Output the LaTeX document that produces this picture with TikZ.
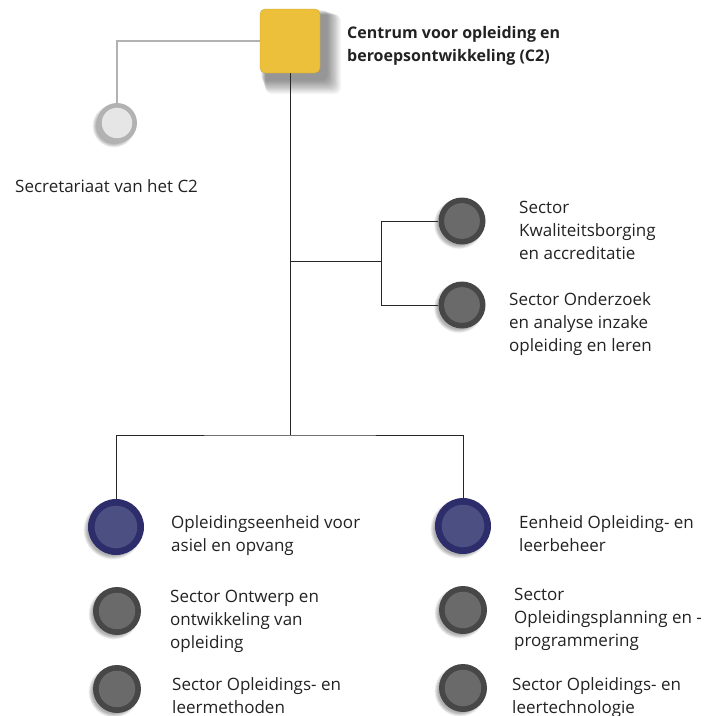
\documentclass[tikz,border=0pt]{standalone}
\usepackage{fontspec}
\setmainfont{Open Sans}
\definecolor{gold}{HTML}{ECC03A}
\definecolor{dgout}{HTML}{474747}
\definecolor{dgin}{HTML}{6A6A6A}
\definecolor{blout}{HTML}{2E2D6B}
\definecolor{blin}{HTML}{4B4F82}
\definecolor{ltout}{HTML}{B2B2B2}
\definecolor{ltin}{HTML}{E6E6E6}
\definecolor{txt}{HTML}{222222}
\newcommand{\mlines}[1]{\vtop{\baselineskip=23.2pt\halign{##\hfil\cr#1\crcr}}}
\newcommand{\orgdot}[6]{%
  \foreach \k in {1,...,7}{\fill[black,opacity=0.05] (#2-3,#3+3) circle ({#4+2-\k*0.6});}
  \node[circle,fill=#5,minimum size={2*#4},inner sep=0pt] (#1) at (#2,#3) {};
  \fill[#6] (#1.center) circle ({#4*0.76});
}
\tikzset{
  lbl/.style={anchor=base west,inner sep=0pt,text=txt,font=\fontsize{17}{23.2}\selectfont},
  conn/.style={draw=black!85,line width=0.7pt},
  lconn/.style={draw=ltout,line width=1.1pt}
}
\begin{document}
\begin{tikzpicture}[x=1pt,y=-1pt]
\useasboundingbox (0,0) rectangle (710,716);
% shadow of top box
\foreach \k in {1,...,12}{\fill[black,opacity=0.045,rounded corners=6pt] (260+6-\k*0.4,9+6-\k*0.4) rectangle (320+8+14-\k*1.2,73+8+14-\k*1.2);}
\node[draw=gold!85!black,line width=0.3pt,fill=gold,rounded corners=5pt,minimum width=60pt,minimum height=64pt,inner sep=0pt] (top) at (290,41) {};
% secretariaat dot
\orgdot{sec}{117}{123}{20}{ltout}{ltin}
% sector dots right
\orgdot{k1}{462}{221}{23.5}{dgout}{dgin}
\orgdot{k2}{462}{305}{23.5}{dgout}{dgin}
% units
\orgdot{u1}{116}{527}{28}{blout}{blin}
\orgdot{u2}{463}{526}{28}{blout}{blin}
\orgdot{s1}{117}{611}{24}{dgout}{dgin}
\orgdot{s2}{117}{689}{24}{dgout}{dgin}
\orgdot{s3}{463}{610}{24}{dgout}{dgin}
\orgdot{s4}{463}{688}{24}{dgout}{dgin}
% junctions
\coordinate (j1) at (290,261);
\coordinate (j2) at (290,435);
\coordinate (b1) at (381,221);
\coordinate (b2) at (381,305);
% connectors
\draw[lconn] (top.west) -| (sec.north);
\draw[conn] (top.south) -- (j2);
\draw[conn] (j1) -- (381,261);
\draw[conn] (b1) -- (b2);
\draw[conn] (b1) -- (k1.west);
\draw[conn] (b2) -- (k2.west);
\draw[conn] (u1.north) |- (j2) -| (u2.north);
% labels
\node[lbl,font=\fontsize{16}{23.5}\selectfont\bfseries] (ttop) at (347,38) {\mlines{Centrum voor opleiding en\cr beroepsontwikkeling (C2)}};
\node[lbl] (tsec) at (15,192) {Secretariaat van het C2};
\node[lbl] (tk1) at (519,213) {\mlines{Sector\cr Kwaliteitsborging\cr en accreditatie}};
\node[lbl] (tk2) at (509,305) {\mlines{Sector Onderzoek\cr en analyse inzake\cr opleiding en leren}};
\node[lbl] (tu1) at (171,528) {\mlines{Opleidingseenheid voor\cr asiel en opvang}};
\node[lbl] (tu2) at (519,528) {\mlines{Eenheid Opleiding- en\cr leerbeheer}};
\node[lbl] (ts1) at (170,602) {\mlines{Sector Ontwerp en\cr ontwikkeling van\cr opleiding}};
\node[lbl] (ts3) at (514,600) {\mlines{Sector\cr Opleidingsplanning en -\cr programmering}};
\node[lbl] (ts2) at (172,690) {\mlines{Sector Opleidings- en\cr leermethoden}};
\node[lbl] (ts4) at (512,690) {\mlines{Sector Opleidings- en\cr leertechnologie}};
\end{tikzpicture}
\end{document}
